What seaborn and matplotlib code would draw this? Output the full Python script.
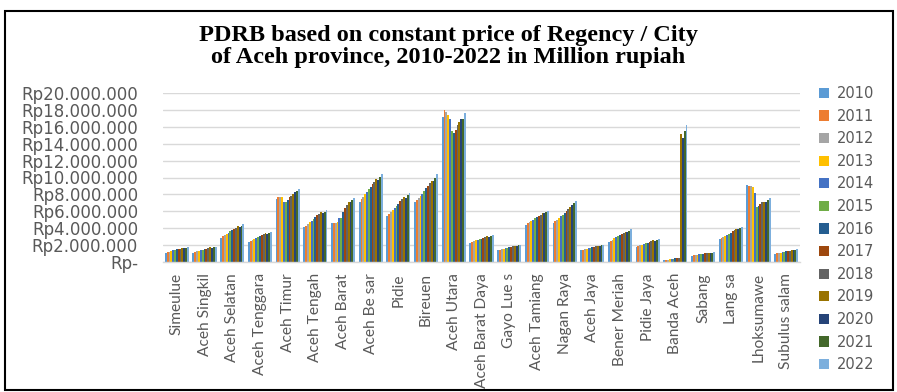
import matplotlib
matplotlib.use("Agg")
import matplotlib.pyplot as plt
from matplotlib.patches import Rectangle
from matplotlib.ticker import FuncFormatter
import pandas as pd
import seaborn as sns

# PDRB at constant prices, millions of rupiah (values below in millions of those units)
regions = [
    "Simeulue", "Aceh Singkil", "Aceh Selatan", "Aceh Tenggara", "Aceh Timur",
    "Aceh Tengah", "Aceh Barat", "Aceh Be sar", "Pidie", "Bireuen", "Aceh Utara",
    "Aceh Barat Daya", "Gayo Lue s", "Aceh Tamiang", "Nagan Raya", "Aceh Jaya",
    "Bener Meriah", "Pidie Jaya", "Banda Aceh", "Sabang", "Lang sa",
    "Lhoksumawe", "Subulus salam",
]
years = [str(y) for y in range(2010, 2023)]

simeulue = [1.10, 1.16, 1.24, 1.30, 1.37, 1.41, 1.48, 1.53, 1.59, 1.64, 1.62, 1.67, 1.72]
aceh_singkil = [1.12, 1.19, 1.27, 1.33, 1.40, 1.47, 1.52, 1.59, 1.65, 1.72, 1.69, 1.75, 1.80]
aceh_selatan = [2.85, 3.02, 3.15, 3.32, 3.45, 3.62, 3.75, 3.92, 4.05, 4.22, 4.15, 4.31, 4.45]
aceh_tenggara = [2.40, 2.53, 2.63, 2.76, 2.86, 2.98, 3.08, 3.19, 3.31, 3.41, 3.37, 3.46, 3.55]
aceh_timur = [7.40, 7.65, 7.75, 7.70, 7.15, 7.10, 7.35, 7.65, 7.85, 8.10, 8.30, 8.40, 8.60]
aceh_tengah = [4.10, 4.31, 4.50, 4.72, 4.90, 5.11, 5.30, 5.52, 5.70, 5.86, 5.75, 5.95, 6.10]
aceh_barat = [4.60, 4.62, 4.65, 4.75, 5.20, 5.25, 5.90, 6.40, 6.80, 7.10, 7.05, 7.30, 7.55]
aceh_besar = [7.10, 7.42, 7.70, 8.02, 8.30, 8.62, 8.90, 9.22, 9.50, 9.82, 9.75, 10.10, 10.45]
pidie = [5.40, 5.66, 5.90, 6.16, 6.40, 6.66, 6.90, 7.16, 7.40, 7.66, 7.60, 7.90, 8.20]
bireuen = [7.10, 7.36, 7.60, 7.86, 8.10, 8.41, 8.70, 9.01, 9.30, 9.61, 9.55, 10.00, 10.40]
aceh_utara = [17.15, 17.95, 17.80, 17.40, 16.90, 15.45, 15.25, 15.60, 16.25, 16.60, 16.90, 16.95, 17.60]
aceh_barat_daya = [2.30, 2.39, 2.46, 2.55, 2.62, 2.71, 2.78, 2.87, 2.94, 3.03, 3.00, 3.08, 3.15]
gayo_lues = [1.40, 1.47, 1.52, 1.59, 1.64, 1.71, 1.76, 1.83, 1.88, 1.95, 1.92, 1.98, 2.04]
aceh_tamiang = [4.40, 4.56, 4.70, 4.86, 5.00, 5.16, 5.30, 5.46, 5.60, 5.80, 5.85, 5.95, 6.05]
nagan_raya = [4.60, 4.81, 5.00, 5.21, 5.40, 5.61, 5.80, 6.01, 6.25, 6.55, 6.70, 7.00, 7.25]
aceh_jaya = [1.40, 1.47, 1.52, 1.59, 1.64, 1.71, 1.76, 1.83, 1.88, 1.95, 1.93, 2.00, 2.06]
bener_meriah = [2.40, 2.54, 2.66, 2.80, 2.92, 3.06, 3.18, 3.32, 3.45, 3.60, 3.58, 3.72, 3.88]
pidie_jaya = [1.80, 1.89, 1.96, 2.05, 2.12, 2.21, 2.28, 2.37, 2.45, 2.55, 2.52, 2.62, 2.72]
banda_aceh = [0.22, 0.25, 0.28, 0.32, 0.36, 0.40, 0.44, 0.48, 0.52, 15.20, 14.70, 15.45, 16.20]
sabang = [0.75, 0.79, 0.82, 0.87, 0.90, 0.94, 0.97, 1.01, 1.04, 1.08, 1.02, 1.10, 1.15]
langsa = [2.70, 2.84, 2.96, 3.10, 3.22, 3.36, 3.48, 3.62, 3.75, 3.90, 3.85, 4.00, 4.20]
lhokseumawe = [9.10, 8.95, 8.95, 8.85, 8.15, 6.50, 6.65, 6.90, 7.05, 7.15, 7.10, 7.30, 7.55]
subulussalam = [0.95, 1.01, 1.05, 1.11, 1.15, 1.21, 1.25, 1.31, 1.35, 1.40, 1.38, 1.45, 1.52]

series = [
    simeulue, aceh_singkil, aceh_selatan, aceh_tenggara, aceh_timur, aceh_tengah,
    aceh_barat, aceh_besar, pidie, bireuen, aceh_utara, aceh_barat_daya, gayo_lues,
    aceh_tamiang, nagan_raya, aceh_jaya, bener_meriah, pidie_jaya, banda_aceh,
    sabang, langsa, lhokseumawe, subulussalam,
]
SCALE = 1_000_000

year_colors = [
    "#5B9BD5", "#ED7D31", "#A5A5A5", "#FFC000", "#4472C4", "#70AD47", "#255E91",
    "#9E480E", "#636363", "#997300", "#264478", "#43682B", "#7CAFDD",
]

rows = []
for region, vals in zip(regions, series):
    for year, v in zip(years, vals):
        rows.append({"region": region, "year": year, "value": v * SCALE})
df = pd.DataFrame(rows)

sns.set_theme(style="white")
plt.rcParams["font.family"] = ["DejaVu Sans"]

fig = plt.figure(figsize=(8.97, 3.92), dpi=100)
W, H = 897, 392
ax = fig.add_axes([163 / W, 1 - 262 / H, (800 - 163) / W, 169 / H])

sns.barplot(
    data=df, x="region", y="value", hue="year", order=regions, hue_order=years,
    palette=year_colors, width=0.87, errorbar=None, ax=ax, saturation=1,
    linewidth=0,
)

ax.set_ylim(0, 20 * SCALE)
ax.set_xlim(-0.5, len(regions) - 0.5)
ax.set_yticks([i * 2 * SCALE for i in range(11)])


def rupiah(v, _pos):
    if v == 0:
        return "Rp-"
    return "Rp" + f"{v:,.0f}".replace(",", ".")


ax.yaxis.set_major_formatter(FuncFormatter(rupiah))
ax.grid(axis="y", color="#d9d9d9", linewidth=1.0)
ax.set_axisbelow(True)
for side in ["top", "right", "left"]:
    ax.spines[side].set_visible(False)
ax.spines["bottom"].set_color("#d9d9d9")
ax.spines["bottom"].set_linewidth(1.0)
ax.set_xlabel("")
ax.set_ylabel("")
ax.tick_params(axis="y", length=0, pad=18, labelsize=12, labelcolor="#595959")
ax.tick_params(axis="x", length=0, pad=8, labelcolor="#595959")
for lab in ax.get_xticklabels():
    lab.set_rotation(90)
    lab.set_fontfamily("Lato")
    lab.set_fontsize(11.2)

handles, labels = ax.get_legend_handles_labels()
ax.legend(
    handles, labels, loc="upper left", bbox_to_anchor=(806 / W, 1 - 73 / H),
    bbox_transform=fig.transFigure, frameon=False, fontsize=10.5,
    handlelength=0.7, handleheight=0.7, handletextpad=0.5, labelspacing=0.52,
    labelcolor="#595959",
)

fig.text(
    0.5, 1 - 35 / H, "PDRB based on constant price of Regency / City",
    ha="center", va="center", fontsize=17.5, fontweight="bold",
    family="Liberation Serif", color="black",
)
fig.text(
    0.5, 1 - 58 / H, "of Aceh province, 2010-2022 in Million rupiah",
    ha="center", va="center", fontsize=17.5, fontweight="bold",
    family="Liberation Serif", color="black",
)

fig.patches.append(Rectangle(
    (5 / W, 2 / H), 888 / W, 379 / H, transform=fig.transFigure,
    fill=False, edgecolor="black", linewidth=1.5,
))

fig.savefig("out.png", dpi=100)
